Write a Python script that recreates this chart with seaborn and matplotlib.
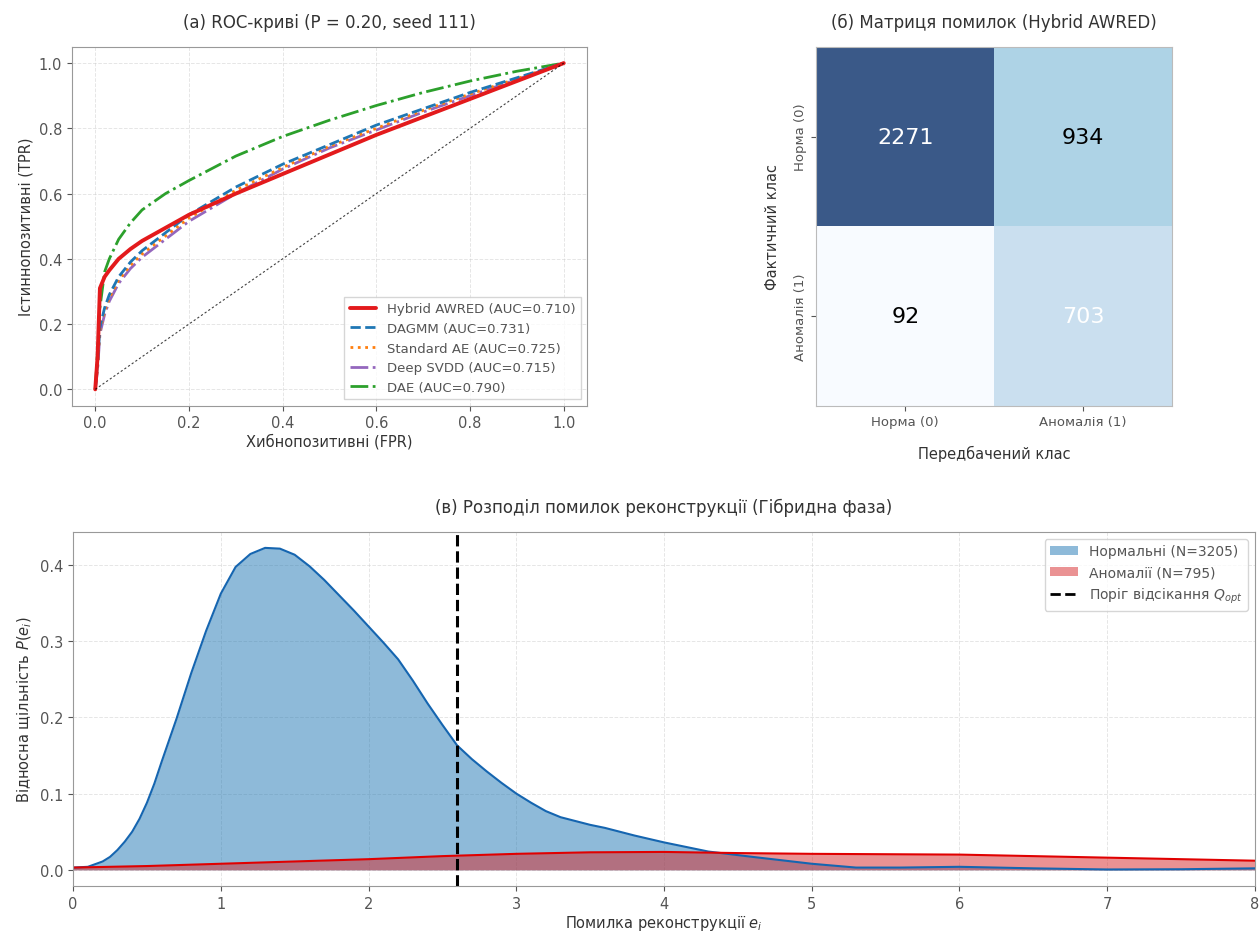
import numpy as np
import pandas as pd
import seaborn as sns
import matplotlib.pyplot as plt
from matplotlib.patches import Patch
from matplotlib.lines import Line2D

sns.set_style("ticks")
plt.rcParams['font.family'] = ['DejaVu Sans']
plt.rcParams['text.color'] = '#333333'
plt.rcParams['axes.labelcolor'] = '#333333'
plt.rcParams['xtick.color'] = '#555555'
plt.rcParams['ytick.color'] = '#555555'
plt.rcParams['axes.edgecolor'] = '#999999'

# ROC curves
fpr = [0, 0.005, 0.01, 0.02, 0.03, 0.05, 0.075, 0.1, 0.15, 0.2, 0.3, 0.4, 0.5, 0.6, 0.7, 0.8, 0.9, 1.0]
tpr_hybrid = [0, 0.10, 0.31, 0.345, 0.365, 0.40, 0.43, 0.455, 0.495, 0.535, 0.60, 0.66, 0.72, 0.78, 0.835, 0.89, 0.945, 1.0]
tpr_dagmm = [0, 0.08, 0.19, 0.25, 0.29, 0.345, 0.39, 0.425, 0.48, 0.535, 0.62, 0.69, 0.75, 0.81, 0.86, 0.91, 0.955, 1.0]
tpr_ae = [0, 0.07, 0.18, 0.24, 0.28, 0.335, 0.38, 0.415, 0.47, 0.525, 0.61, 0.68, 0.745, 0.80, 0.855, 0.905, 0.952, 1.0]
tpr_svdd = [0, 0.06, 0.17, 0.23, 0.27, 0.325, 0.37, 0.405, 0.46, 0.515, 0.60, 0.675, 0.74, 0.795, 0.85, 0.90, 0.95, 1.0]
tpr_dae = [0, 0.12, 0.25, 0.36, 0.40, 0.46, 0.51, 0.55, 0.60, 0.64, 0.715, 0.775, 0.825, 0.87, 0.91, 0.945, 0.975, 1.0]
model_names = ['Hybrid AWRED', 'DAGMM', 'Standard AE', 'Deep SVDD', 'DAE']
model_auc = [0.710, 0.731, 0.725, 0.715, 0.790]

# confusion matrix
cm = [[2271, 934], [92, 703]]
class_labels = ['Норма (0)', 'Аномалія (1)']

# reconstruction error densities
err_norm = [0, 0.1, 0.2, 0.25, 0.3, 0.35, 0.4, 0.45, 0.5, 0.55, 0.6, 0.65, 0.7, 0.8, 0.9, 1.0, 1.1, 1.2,
            1.3, 1.4, 1.5, 1.6, 1.7, 1.8, 1.9, 2.0, 2.1, 2.2, 2.3, 2.4, 2.5, 2.6, 2.7, 2.8, 2.9, 3.0,
            3.1, 3.2, 3.3, 3.4, 3.5, 3.6, 3.8, 4.0, 4.3, 4.6, 5.0, 5.3, 5.6, 6.0, 6.5, 7.0, 7.5, 8.0]
dens_norm = [0.003, 0.004, 0.011, 0.017, 0.026, 0.037, 0.05, 0.067, 0.088, 0.113, 0.142, 0.17, 0.198,
             0.258, 0.313, 0.362, 0.397, 0.414, 0.422, 0.421, 0.413, 0.398, 0.38, 0.36, 0.34, 0.319,
             0.298, 0.276, 0.248, 0.218, 0.19, 0.163, 0.145, 0.129, 0.114, 0.10, 0.088, 0.077, 0.069,
             0.064, 0.059, 0.055, 0.045, 0.036, 0.024, 0.017, 0.008, 0.003, 0.003, 0.004, 0.002,
             0.0005, 0.0008, 0.002]
err_anom = [0, 0.5, 1.0, 1.5, 2.0, 2.5, 3.0, 3.5, 4.0, 4.5, 5.0, 5.5, 6.0, 6.5, 7.0, 7.5, 8.0]
dens_anom = [0.003, 0.005, 0.008, 0.011, 0.014, 0.018, 0.021, 0.023, 0.0235, 0.022, 0.021, 0.0205,
             0.020, 0.018, 0.016, 0.014, 0.012]
threshold = 2.6
n_norm, n_anom = 3205, 795

fig = plt.figure(figsize=(12.6, 9.37), dpi=100)

# (а) ROC
ax1 = fig.add_axes([0.057, 0.566, 0.409, 0.383])
roc = pd.DataFrame({'fpr': fpr, 'Hybrid AWRED': tpr_hybrid, 'DAGMM': tpr_dagmm,
                    'Standard AE': tpr_ae, 'Deep SVDD': tpr_svdd, 'DAE': tpr_dae})
styles = {'Hybrid AWRED': dict(color='#e31a1c', ls='-', lw=2.8),
          'DAGMM': dict(color='#1f77b4', ls='--', lw=2),
          'Standard AE': dict(color='#ff7f0e', ls=':', lw=2),
          'Deep SVDD': dict(color='#9467bd', ls='-.', lw=2),
          'DAE': dict(color='#2ca02c', ls='-.', lw=2)}
draw_order = ['DAE', 'Deep SVDD', 'Standard AE', 'DAGMM', 'Hybrid AWRED']
for name in draw_order:
    st = styles[name]
    sns.lineplot(data=roc, x='fpr', y=name, ax=ax1, color=st['color'], linestyle=st['ls'],
                 linewidth=st['lw'], sort=False, estimator=None)
ax1.plot([0, 1], [0, 1], color='k', ls=(0, (2, 2)), lw=0.8, alpha=0.75)
handles = [Line2D([], [], color=styles[n]['color'], ls=styles[n]['ls'], lw=styles[n]['lw'])
           for n in model_names]
labels = [f'{n} (AUC={a:.3f})' for n, a in zip(model_names, model_auc)]
ax1.legend(handles, labels, loc='lower right', fontsize=9.5, frameon=True, fancybox=False,
           edgecolor='#cccccc', labelcolor='#555555')
ax1.set_xlim(-0.05, 1.05)
ax1.set_ylim(-0.05, 1.05)
ax1.set_xticks(np.arange(0, 1.01, 0.2))
ax1.set_yticks(np.arange(0, 1.01, 0.2))
ax1.tick_params(labelsize=10.5)
ax1.grid(True, ls='--', lw=0.7, alpha=0.5)
ax1.set_title('(а) ROC-криві (P = 0.20, seed 111)', fontsize=12, pad=14)
ax1.set_xlabel('Хибнопозитивні (FPR)', fontsize=10.5, labelpad=2)
ax1.set_ylabel('Істиннопозитивні (TPR)', fontsize=10.5)
for s in ax1.spines.values():
    s.set_visible(True)

# (б) confusion matrix
ax2 = fig.add_axes([0.648, 0.566, 0.282, 0.383])
cm_df = pd.DataFrame(cm, index=class_labels, columns=class_labels)
sns.heatmap(cm_df, ax=ax2, cmap='Blues', alpha=0.8, cbar=False, annot=True, fmt='d',
            annot_kws={'fontsize': 16})
text_colors = ['white', 'black', 'black', 'white']
for t, c in zip(ax2.texts, text_colors):
    t.set_color(c)
ax2.set_title('(б) Матриця помилок (Hybrid AWRED)', fontsize=12, pad=14)
ax2.set_xlabel('Передбачений клас', fontsize=10.5, labelpad=12)
ax2.set_ylabel('Фактичний клас', fontsize=10.5, labelpad=10)
ax2.tick_params(axis='both', labelsize=9.5)
ax2.set_yticklabels(class_labels, rotation=90, va='center')
for s in ax2.spines.values():
    s.set_visible(True)
    s.set_color('#bbbbbb')

# (в) densities
ax3 = fig.add_axes([0.058, 0.0534, 0.938, 0.378])
blue = '#1f77b4'
red = '#d62728'
ax3.fill_between(err_norm, dens_norm, color=blue, alpha=0.5, lw=0)
sns.lineplot(x=err_norm, y=dens_norm, ax=ax3, color='#1565b0', lw=1.5, estimator=None)
ax3.fill_between(err_anom, dens_anom, color=red, alpha=0.5, lw=0)
sns.lineplot(x=err_anom, y=dens_anom, ax=ax3, color='#e00000', lw=1.5, estimator=None)
ax3.axvline(threshold, color='black', ls='--', lw=2.2)
ax3.set_xlim(0, 8)
ax3.tick_params(labelsize=10.5)
ax3.grid(True, ls='--', lw=0.7, alpha=0.5)
leg_h = [Patch(facecolor=blue, alpha=0.5, edgecolor='none'),
         Patch(facecolor=red, alpha=0.5, edgecolor='none'),
         Line2D([], [], color='black', ls='--', lw=2)]
leg_l = [f'Нормальні (N={n_norm})', f'Аномалії (N={n_anom})', 'Поріг відсікання $Q_{opt}$']
ax3.legend(leg_h, leg_l, loc='upper right', fontsize=10, frameon=True, fancybox=True,
           edgecolor='#cccccc', labelcolor='#555555')
ax3.set_title('(в) Розподіл помилок реконструкції (Гібридна фаза)', fontsize=12, pad=14)
ax3.set_xlabel('Помилка реконструкції $e_i$', fontsize=10.5, labelpad=1)
ax3.set_ylabel('Відносна щільність $P(e_i)$', fontsize=10.5)
for s in ax3.spines.values():
    s.set_visible(True)

fig.savefig('out.png', dpi=100)
